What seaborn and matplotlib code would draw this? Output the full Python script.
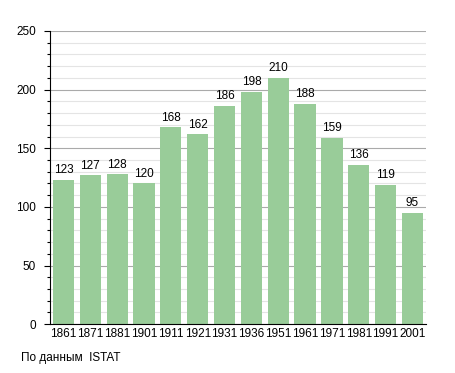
import matplotlib
matplotlib.use("Agg")
import matplotlib.pyplot as plt
import seaborn as sns
import pandas as pd
from matplotlib.ticker import MultipleLocator

years = ['1861', '1871', '1881', '1901', '1911', '1921', '1931', '1936',
         '1951', '1961', '1971', '1981', '1991', '2001']
population = [123, 127, 128, 120, 168, 162, 186, 198, 210, 188, 159, 136, 119, 95]

df = pd.DataFrame({'year': years, 'value': population})

sns.set_style('white')
plt.rcParams['font.family'] = ['Liberation Sans', 'DejaVu Sans']
plt.rcParams['text.color'] = 'black'
plt.rcParams['xtick.color'] = 'black'
plt.rcParams['ytick.color'] = 'black'

fig = plt.figure(figsize=(4.55, 3.73), dpi=100)
ax = fig.add_axes([0.11, 0.131, 0.826, 0.786])

ax.yaxis.set_major_locator(MultipleLocator(50))
ax.yaxis.set_minor_locator(MultipleLocator(10))
ax.grid(axis='y', which='major', color='#aaaaaa', linewidth=0.8)
ax.grid(axis='y', which='minor', color='#e4e4e4', linewidth=0.8)
ax.set_axisbelow(True)

sns.barplot(data=df, x='year', y='value', color='#99cc99', saturation=1,
            width=0.79, linewidth=0, ax=ax)

for i, v in enumerate(population):
    ax.text(i, v + 3, str(v), ha='center', va='bottom', fontsize=8.5)

ax.set_ylim(0, 250)
ax.set_xlim(-0.5, len(years) - 0.5)
ax.set_xlabel('')
ax.set_ylabel('')
ax.tick_params(axis='both', labelsize=8.5)
ax.tick_params(axis='y', which='major', length=4, width=0.8, left=True, pad=6)
ax.tick_params(axis='y', which='minor', length=2, width=0.8, left=True)
ax.tick_params(axis='x', length=0, pad=3)

for s in ['top', 'right']:
    ax.spines[s].set_visible(False)
ax.spines['left'].set_color('black')
ax.spines['bottom'].set_color('black')
ax.spines['left'].set_linewidth(0.8)
ax.spines['bottom'].set_linewidth(0.8)

fig.text(0.046, 0.025, 'По данным  ISTAT', fontsize=8.5, ha='left', va='bottom')

fig.savefig('out.png', dpi=100)
